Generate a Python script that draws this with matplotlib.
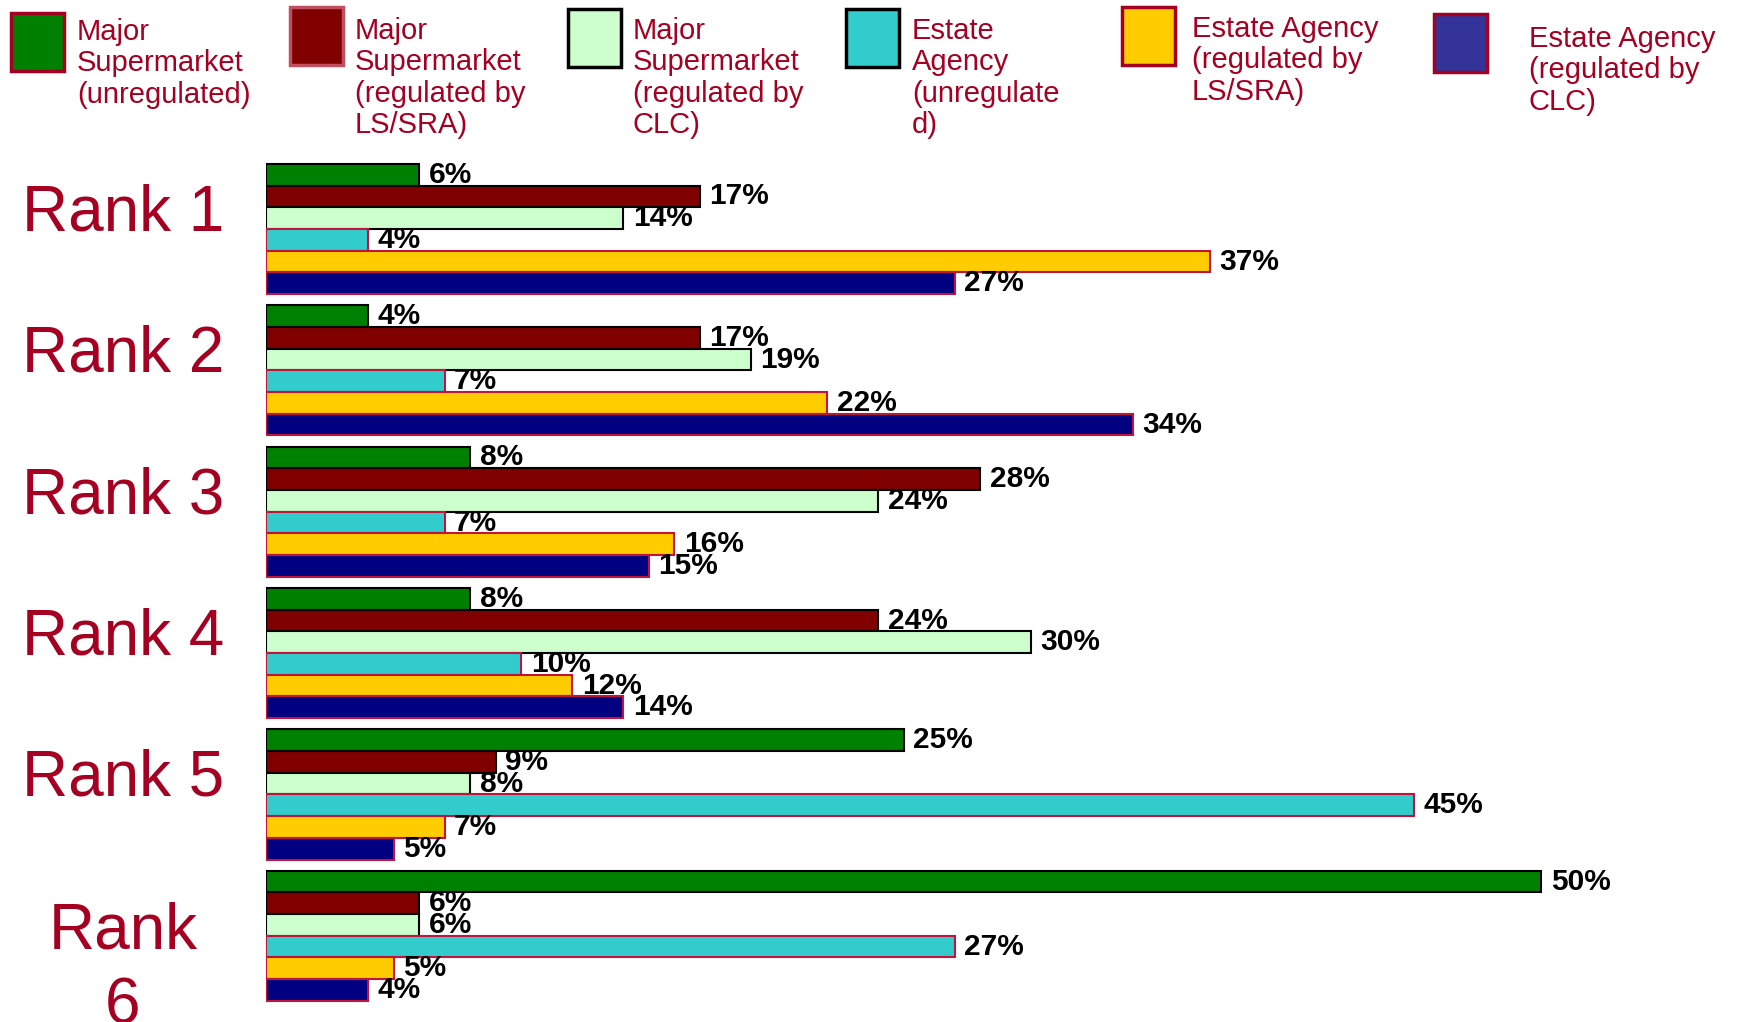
import matplotlib.pyplot as plt
from matplotlib.patches import Rectangle
from matplotlib.transforms import blended_transform_factory

plt.rcParams['font.family'] = ['Liberation Sans', 'DejaVu Sans']

ranks = ['Rank 1', 'Rank 2', 'Rank 3', 'Rank 4', 'Rank 5', 'Rank\n6']
series_names = [
    'Major\nSupermarket\n(unregulated)',
    'Major\nSupermarket\n(regulated by\nLS/SRA)',
    'Major\nSupermarket\n(regulated by\nCLC)',
    'Estate\nAgency\n(unregulate\nd)',
    'Estate Agency\n(regulated by\nLS/SRA)',
    'Estate Agency\n(regulated by\nCLC)',
]
# percentage of respondents per rank, one list per provider type
sm_unregulated = [6, 4, 8, 8, 25, 50]
sm_ls_sra = [17, 17, 28, 24, 9, 6]
sm_clc = [14, 19, 24, 30, 8, 6]
ea_unregulated = [4, 7, 7, 10, 45, 27]
ea_ls_sra = [37, 22, 16, 12, 7, 5]
ea_clc = [27, 34, 15, 14, 5, 4]
series_values = [sm_unregulated, sm_ls_sra, sm_clc, ea_unregulated, ea_ls_sra, ea_clc]

bar_colors = ['#008000', '#800000', '#CCFFCC', '#33CCCC', '#FFCC00', '#000080']
bar_edges = ['black', 'black', 'black', '#C0143C', '#C0143C', '#C0143C']
legend_colors = ['#008000', '#800000', '#CCFFCC', '#33CCCC', '#FFCC00', '#333399']
legend_edges = ['#A50021', '#C05060', 'black', 'black', '#A50021', '#A50021']
text_red = '#A50021'

W, H = 1746, 1022
fig = plt.figure(figsize=(W / 100, H / 100), dpi=100)
left_px = 266
px_per_pct = 25.5
ax = fig.add_axes([left_px / W, 0, 1 - left_px / W, 1])
ax.set_xlim(0, (W - left_px) / px_per_pct)
ax.set_ylim(5.61, -1.62)
ax.axis('off')

h = 0.1535
for k, (vals, fc, ec) in enumerate(zip(series_values, bar_colors, bar_edges)):
    ys = [i + (k - 2.5) * h for i in range(len(ranks))]
    bars = ax.barh(ys, vals, height=h, color=fc, edgecolor=ec, linewidth=1.5)
    for b, v in zip(bars, vals):
        ax.annotate(f'{v}%', (b.get_width(), b.get_y() + h / 2),
                    xytext=(7, 0), textcoords='offset points',
                    ha='left', va='center', fontsize=21.5, fontweight='bold',
                    color='black', annotation_clip=False)

# rank labels on the left
tr = blended_transform_factory(fig.transFigure, ax.transData)
for i, name in enumerate(ranks):
    dy = 0.235 if '\n' in name else -0.11
    ax.text(123 / W, i + dy, name, transform=tr, ha='center', va='center',
            fontsize=46, color=text_red, linespacing=1.3)

# legend row across the top
patch_x = [11, 290, 568, 846, 1122, 1434]
patch_y = [13, 7, 9, 9, 7, 14]
text_x = [77, 355, 633, 912, 1192, 1529]
text_y = [18, 17, 17, 17, 15, 25]
for px, py, tx, ty, name, fc, ec in zip(patch_x, patch_y, text_x, text_y,
                                         series_names, legend_colors, legend_edges):
    fig.patches.append(Rectangle((px / W, 1 - (py + 58) / H), 53 / W, 58 / H,
                                 transform=fig.transFigure, facecolor=fc,
                                 edgecolor=ec, linewidth=2.5))
    fig.text(tx / W, 1 - ty / H, name, ha='left', va='top', fontsize=21,
             color=text_red, linespacing=1.15)

fig.savefig('out.png', dpi=100)
